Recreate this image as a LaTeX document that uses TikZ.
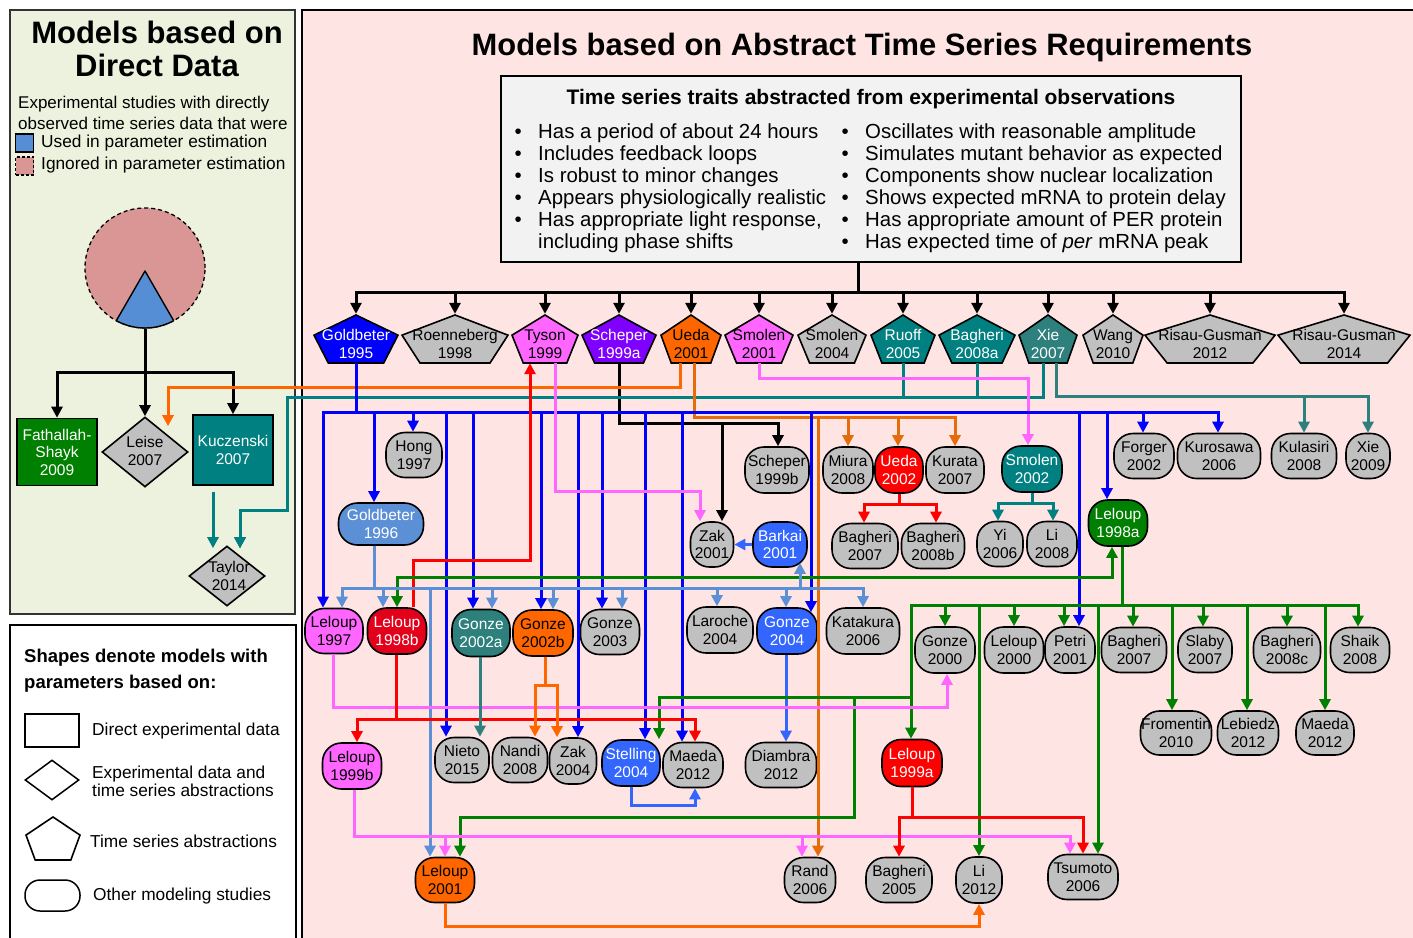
\documentclass[tikz,border=0pt]{standalone}
\usepackage{fontspec}
\setmainfont{Liberation Sans}
\usetikzlibrary{arrows.meta,shapes.geometric,calc}
\definecolor{cBlue}{HTML}{0000FF}
\definecolor{cLBlue}{HTML}{5B8FD6}
\definecolor{cMBlue}{HTML}{3366FF}
\definecolor{cPink}{HTML}{FF66FF}
\definecolor{cOrange}{HTML}{FF6600}
\definecolor{cDOrange}{HTML}{E46C0A}
\definecolor{cRed}{HTML}{FF0000}
\definecolor{cDRed}{HTML}{E3001B}
\definecolor{cTeal}{HTML}{008080}
\definecolor{cDTeal}{HTML}{2E807D}
\definecolor{cGreen}{HTML}{008000}
\definecolor{cPurple}{HTML}{8000FF}
\definecolor{cGrey}{HTML}{C0C0C0}
\definecolor{cPinkBg}{HTML}{FFE4E4}
\definecolor{cGreenBg}{HTML}{ECF2DD}
\definecolor{cBox}{HTML}{F2F2F2}
\definecolor{cPie}{HTML}{D99694}
\definecolor{cPieBlue}{HTML}{558ED5}
\newcommand\nodefont{\fontsize{15.5}{17.5}\selectfont}
\newcommand\rn[6]{\node[rnd,minimum width=#4,minimum height=#5,#6] (#1) at (#2,#3)}
\tikzset{
 rnd/.style={draw=black, line width=1.6pt, rounded corners=19pt, inner sep=0pt, align=center, font=\nodefont, fill=cGrey},
 wt/.style={text=white},
 ar/.style={line width=3pt, -{Triangle[length=11pt,width=11pt]}},
 pent/.style n args={3}{rectangle, inner sep=0pt, minimum width=#1, minimum height=60, align=center, font=\nodefont,
  path picture={
   \path ([yshift=-1pt]path picture bounding box.north) coordinate (pA)
     ([xshift=-2pt,yshift={-(1+0.42*#3)*1pt}]path picture bounding box.north east) coordinate (pR)
     ([xshift=2pt,yshift={-(1+0.42*#3)*1pt}]path picture bounding box.north west) coordinate (pL);
   \filldraw[fill=#2, draw=black, line width=1.6pt]
     (pA) -- (pR) -- ($(pA)!0.66!(pA -| pR)+(0pt,-#3pt)$) -- ($(pA)!0.66!(pA -| pL)+(0pt,-#3pt)$) -- (pL) -- cycle;
  }},
 lbl/.style={anchor=west, align=left, inner sep=0pt, font=\fontsize{17.3}{18}\selectfont},
}
\begin{document}
\begin{tikzpicture}[x=1pt,y=-1pt]
\useasboundingbox (0,0) rectangle (1413,937);
\fill[white] (0,0) rectangle (1413,937);
% panels
\draw[fill=cGreenBg, draw=black!80, line width=1.3pt] (10,10) rectangle (295,614);
\draw[fill=white, draw=black, line width=1.3pt] (10,625) rectangle (296,950);
\draw[fill=cPinkBg, draw=black, line width=1.3pt] (302,10) rectangle (1425,950);

% ---------- left panel ----------
\node[font=\fontsize{31}{33}\selectfont\bfseries, align=center, inner sep=0pt] (ltitle) at (157,49) {Models based on\\Direct Data};
\node[lbl, font=\fontsize{17}{21}\selectfont] (ltext) at (18,113) {Experimental studies with directly\\observed time series data that were};
\node[draw=black, line width=1.3pt, fill=cPieBlue, minimum size=18, inner sep=0pt] (legU) at (24.5,143) {};
\node[draw=black, dash pattern=on 3pt off 2pt, line width=1.3pt, fill=cPie, minimum size=18, inner sep=0pt] (legI) at (24.5,166) {};
\node[lbl] (legUt) at (41,143) {Used in parameter estimation};
\node[lbl] (legIt) at (41,165) {Ignored in parameter estimation};

\node[circle, draw=black, dash pattern=on 4pt off 3pt, line width=1.3pt, fill=cPie, minimum size=120, inner sep=0pt] (pie) at (145,268) {};
\begin{scope}
 \clip (pie.center) circle[radius=59.4pt];
 \fill[cPieBlue] (145,271) -- ++(-120:90pt) -- ++(0:90pt) -- cycle;
\end{scope}
\begin{scope}
 \clip (145,271) -- ++(-120:90pt) -- ++(0:90pt) -- cycle;
 \draw[line width=1.4pt] (pie.center) circle[radius=60pt];
\end{scope}
\draw[line width=1.4pt, line join=round] (116.3,320.7) -- (145,271) -- (173.7,320.7);

\node[rectangle, draw=black, line width=1.6pt, fill=cGreen, wt, minimum width=80, minimum height=67, inner sep=0pt, align=center, font=\nodefont] (fath) at (57,452) {Fathallah-\\Shayk\\2009};
\node[rectangle, draw=black, line width=1.6pt, fill=cTeal, wt, minimum width=80, minimum height=70, inner sep=0pt, align=center, font=\nodefont] (kucz) at (233,450) {Kuczenski\\2007};
\node[diamond, draw=black, line width=1.6pt, fill=cGrey, minimum width=86, minimum height=70, inner sep=0pt] (leise) at (145,452) {};
\node[font=\nodefont, align=center, inner sep=0pt] (leiset) at (145,451) {Leise\\2007};
\node[diamond, draw=black, line width=1.6pt, fill=cGrey, minimum width=76, minimum height=60, inner sep=0pt] (taylor) at (227,576) {};
\node[font=\nodefont, align=center, inner sep=0pt] (taylort) at (229,576) {Taylor\\2014};

% legend of shapes
\node[anchor=west, align=left, inner sep=0pt, font=\fontsize{18.5}{26}\selectfont\bfseries] (lhead) at (24,671) {Shapes denote models with\\parameters based on:};
\node[draw=black, line width=1.5pt, fill=white, minimum width=54, minimum height=33, inner sep=0pt] (legR) at (52,730.5) {};
\node[diamond, draw=black, line width=1.5pt, fill=white, minimum width=54, minimum height=40, inner sep=0pt] (legD) at (52,780) {};
\node[pent={58}{white}{43}] (legP) at (53,846) {};
\node[draw=black, line width=1.5pt, fill=white, rounded corners=15pt, minimum width=55, minimum height=31, inner sep=0pt] (legO) at (52.5,895.5) {};
\node[lbl] (legRt) at (92,731) {Direct experimental data};
\node[lbl] (legDt) at (92,781) {Experimental data and\\time series abstractions};
\node[lbl] (legPt) at (90,841) {Time series abstractions};
\node[lbl] (legOt) at (93,896) {Other modeling studies};

% ---------- right panel ----------
\node[font=\fontsize{30.9}{34}\selectfont\bfseries, inner sep=0pt] (rtitle) at (862,48) {Models based on Abstract Time Series Requirements};
\node[draw=black, line width=1.5pt, fill=cBox, minimum width=740, minimum height=186, inner sep=0pt] (traits) at (871,169) {};
\node[font=\fontsize{21}{24}\selectfont\bfseries, inner sep=0pt] (thead) at (871,99) {Time series traits abstracted from experimental observations};
\node[anchor=north west, inner sep=0pt, font=\fontsize{20.4}{22}\selectfont] (tcolL) at (514.5,123) {\renewcommand\arraystretch{1}\begin{tabular}{@{}l@{\hspace{16.4pt}}l@{}}
\textbullet & Has a period of about 24 hours\\
\textbullet & Includes feedback loops\\
\textbullet & Is robust to minor changes\\
\textbullet & Appears physiologically realistic\\
\textbullet & Has appropriate light response,\\
 & including phase shifts
\end{tabular}};
\node[anchor=north west, inner sep=0pt, font=\fontsize{20.4}{22}\selectfont] (tcolR) at (841.5,123) {\renewcommand\arraystretch{1}\begin{tabular}{@{}l@{\hspace{16.4pt}}l@{}}
\textbullet & Oscillates with reasonable amplitude\\
\textbullet & Simulates mutant behavior as expected\\
\textbullet & Components show nuclear localization\\
\textbullet & Shows expected mRNA to protein delay\\
\textbullet & Has appropriate amount of PER protein\\
\textbullet & Has expected time of \textit{per} mRNA peak
\end{tabular}};

% pentagons
\node[pent={88}{cBlue}{48},wt] (gb95) at (356,344) {Goldbeter\\1995};
\node[pent={110}{cGrey}{48}] (roe98) at (455,344) {Roenneberg\\1998};
\node[pent={70}{cPink}{48}] (ty99) at (545,344) {Tyson\\1999};
\node[pent={78}{cPurple}{48},wt] (sch99a) at (619,344) {Scheper\\1999a};
\node[pent={64}{cOrange}{48}] (ue01) at (691,344) {Ueda\\2001};
\node[pent={72}{cPink}{48}] (sm01) at (759,344) {Smolen\\2001};
\node[pent={72}{cGrey}{48}] (sm04) at (832,344) {Smolen\\2004};
\node[pent={68}{cTeal}{48},wt] (ru05) at (903,344) {Ruoff\\2005};
\node[pent={80}{cTeal}{48},wt] (bag08a) at (977,344) {Bagheri\\2008a};
\node[pent={62}{cDTeal}{48},wt] (xie07) at (1048,344) {Xie\\2007};
\node[pent={64}{cGrey}{48}] (wa10) at (1113,344) {Wang\\2010};
\node[pent={134}{cGrey}{48}] (rg12) at (1210,344) {Risau-Gusman\\2012};
\node[pent={136}{cGrey}{48}] (rg14) at (1344,344) {Risau-Gusman\\2014};

% other modeling studies
\rn{hong}{414}{455}{56}{45}{}{Hong\\1997};
\rn{sch99b}{777}{470}{64}{46}{}{Scheper\\1999b};
\rn{miura}{848}{470}{50}{46}{}{Miura\\2008};
\rn{ueda02}{899}{470}{48}{46}{fill=cRed,wt}{Ueda\\2002};
\rn{kurata}{955}{470}{58}{46}{}{Kurata\\2007};
\rn{sm02}{1032}{469}{60}{46}{fill=cTeal,wt}{Smolen\\2002};
\rn{forger}{1144}{456}{60}{45}{}{Forger\\2002};
\rn{kuros}{1219}{456}{83}{45}{}{Kurosawa\\2006};
\rn{kul08}{1304}{456}{65}{45}{}{Kulasiri\\2008};
\rn{xie09}{1368}{456}{44}{45}{}{Xie\\2009};
\rn{gb96}{381}{524}{85}{42}{fill=cLBlue,wt}{Goldbeter\\1996};
\rn{zak01}{712}{544.5}{43}{45}{}{Zak\\2001};
\rn{barkai}{780}{544.5}{54}{45}{fill=cMBlue,wt}{Barkai\\2001};
\rn{bag07a}{865}{546}{66}{45}{}{Bagheri\\2007};
\rn{bag08b}{933}{546}{63}{45}{}{Bagheri\\2008b};
\rn{yi06}{1000}{544}{46}{45}{}{Yi\\2006};
\rn{li08}{1052}{544}{50}{45}{}{Li\\2008};
\rn{lel98a}{1118}{523}{59}{46}{fill=cGreen,wt}{Leloup\\1998a};
\rn{lel97}{334}{631}{58}{45}{fill=cPink}{Leloup\\1997};
\rn{lel98b}{397}{631}{59}{46}{fill=cDRed,wt}{Leloup\\1998b};
\rn{gz02a}{481}{633}{58}{47}{fill=cDTeal,wt}{Gonze\\2002a};
\rn{gz02b}{543}{633}{60}{46}{fill=cOrange}{Gonze\\2002b};
\rn{gz03}{610}{632}{59}{45}{}{Gonze\\2003};
\rn{laroche}{720}{630}{66}{46}{}{Laroche\\2004};
\rn{gz04}{787}{631}{60}{46}{fill=cMBlue,wt}{Gonze\\2004};
\rn{katakura}{863}{631}{73}{46}{}{Katakura\\2006};
\rn{gz00}{945}{650}{60}{46}{}{Gonze\\2000};
\rn{lel00}{1014}{650}{59}{46}{}{Leloup\\2000};
\rn{petri}{1070}{650}{50}{46}{}{Petri\\2001};
\rn{bag07b}{1134}{650}{65}{45}{}{Bagheri\\2007};
\rn{slaby}{1205}{650}{54}{45}{}{Slaby\\2007};
\rn{bag08c}{1287}{650}{67}{45}{}{Bagheri\\2008c};
\rn{shaik}{1360}{650}{59}{45}{}{Shaik\\2008};
\rn{froment}{1176}{733}{71}{44}{}{Fromentin\\2010};
\rn{lebiedz}{1248}{733}{61}{44}{}{Lebiedz\\2012};
\rn{mae12r}{1325}{733}{58}{44}{}{Maeda\\2012};
\rn{lel99b}{352}{766}{59}{46}{fill=cPink}{Leloup\\1999b};
\rn{nieto}{462}{760}{54}{45}{}{Nieto\\2015};
\rn{nandi}{520}{760}{55}{45}{}{Nandi\\2008};
\rn{zak04}{573}{761}{47}{46}{}{Zak\\2004};
\rn{stel}{631}{763}{58}{46}{fill=cMBlue,wt}{Stelling\\2004};
\rn{mae12m}{693}{765}{60}{45}{}{Maeda\\2012};
\rn{diambra}{781}{765}{71}{45}{}{Diambra\\2012};
\rn{lel99a}{912}{763}{60}{47}{fill=cRed,wt}{Leloup\\1999a};
\rn{lel01}{445}{880}{59}{45}{fill=cOrange}{Leloup\\2001};
\rn{rand}{810}{880}{51}{45}{}{Rand\\2006};
\rn{bag05}{899}{880}{66}{45}{}{Bagheri\\2005};
\rn{li12}{979}{880}{46}{46}{}{Li\\2012};
\rn{tsumoto}{1083}{877}{70}{45}{}{Tsumoto\\2006};

% ---------- connectors ----------
% black
\foreach \tg in {gb95,roe98,ty99,sch99a,ue01,sm01,sm04,ru05,bag08a,xie07,wa10,rg12,rg14}
  \draw[ar] ([xshift=-13pt]traits.south) -- ++(0,30) -| (\tg.north);
\foreach \tg in {fath,leise,kucz}
  \draw[ar] (pie.south) -- ++(0,44) -| (\tg.north);
\draw[ar] ([yshift=11pt]sch99a.south) -- ++(0,60) -| ([xshift=1pt]sch99b.north);
\draw[ar] ([yshift=11pt]sch99a.south) -- ++(0,60) -| ([xshift=10pt]zak01.north);
% teal to Taylor
\foreach \s/\dx in {xie07/-5pt, ru05/0pt, bag08a/0pt}
  \draw[ar, draw=cTeal] ([xshift=\dx,yshift=11pt]\s.south) -- ++(0,34) -| (287,510) -| ([xshift=13pt,yshift=-3pt]taylor.north);
\draw[ar, draw=cTeal] ([xshift=-20pt,yshift=-6pt]kucz.south) -- ([xshift=-14pt,yshift=-3pt]taylor.north);
% orange Ueda 2001 -> Leise
\draw[ar, draw=cOrange] ([xshift=-11pt,yshift=11pt]ue01.south) -- ++(0,24) -| ([xshift=23pt,yshift=-10pt]leise.north);
% dark teal Xie 2007
\foreach \tg in {kul08, xie09}
  \draw[ar, draw=cDTeal] ([xshift=8pt,yshift=11pt]xie07.south) -- ++(0,33) -| (\tg.north);
% pink Smolen 2001 -> Smolen 2002
\draw[ar, draw=cPink] ([yshift=11pt]sm01.south) -- ++(0,15) -| ([xshift=-4pt]sm02.north);
% dark orange Ueda 2001
\foreach \tg/\dx in {miura/0pt, ueda02/-1pt, kurata/0pt, rand/8pt}
  \draw[ar, draw=cDOrange] ([xshift=3pt,yshift=11pt]ue01.south) -- ++(0,54) -| ([xshift=\dx]\tg.north);
% blue Goldbeter 1995
\foreach \tg/\dx in {lel97/-11pt, gb96/-7pt, hong/-1pt, nieto/-16pt, gz02a/-8pt, gz02b/-2pt, zak04/5pt, gz03/-8pt, stel/14pt, mae12m/-11pt, petri/9pt, lel98a/-11pt, forger/-1pt, kuros/-1pt}
  \draw[ar, draw=cBlue] ([yshift=11pt]gb95.south) -- ++(0,49) -| ([xshift=\dx]\tg.north);
\draw[ar, draw=cBlue] ([yshift=11pt]gb95.south) -- ++(0,49) -| ([xshift=24pt,yshift=-5pt]gz04.north);
% pink Tyson -> Zak 2001
\draw[ar, draw=cPink] ([xshift=10pt,yshift=11pt]ty99.south) -- ++(0,128) -| ([xshift=-12pt]zak01.north);
% red Leloup 1998b -> Tyson
\draw[ar, draw=cRed] ([xshift=16pt]lel98b.north) |- (530,560) -- ([xshift=-15pt,yshift=11pt]ty99.south);
% red Ueda 2002
\foreach \tg/\dx in {bag07a/-1pt, bag08b/3pt}
  \draw[ar, draw=cRed] (ueda02.south) -- ++(0,11) -| ([xshift=\dx]\tg.north);
% teal Smolen 2002
\foreach \tg/\dx in {yi06/-2pt, li08/1pt}
  \draw[ar, draw=cTeal] (sm02.south) -- ++(0,11) -| ([xshift=\dx]\tg.north);
% green Leloup 1998a <-> Leloup 1998b
\draw[draw=cGreen, line width=3pt, {Triangle[length=11pt,width=11pt]}-{Triangle[length=11pt,width=11pt]}] ([xshift=-6pt]lel98a.south) |- (397,577) -- (lel98b.north);
% light blue Goldbeter 1996
\foreach \tg/\dx in {lel97/8pt, lel98b/-14pt, gz02a/11pt, gz02b/10pt, gz03/12pt, laroche/-3pt, gz04/-1pt, katakura/0pt, lel01/-15pt}
  \draw[ar, draw=cLBlue] ([xshift=-7pt]gb96.south) -- ++(0,43) -| ([xshift=\dx]\tg.north);
\draw[ar, draw=cLBlue] ([xshift=-7pt]gb96.south) -- ++(0,43) -| ([xshift=20pt,yshift=5pt]barkai.south);
% medium blue
\draw[ar, draw=cMBlue] (barkai.west) -- (zak01.east);
\draw[ar, draw=cMBlue] ([xshift=-1pt]gz04.south) -- ([xshift=5pt]diambra.north);
\draw[ar, draw=cMBlue] (stel.south) -- ++(0,19) -| ([xshift=2pt]mae12m.south);
% green Leloup 1998a
\foreach \tg/\dx in {gz00/0pt, lel00/0pt, petri/-6pt, bag07b/-1pt, slaby/-2pt, bag08c/0pt, shaik/-2pt, froment/-4pt, lebiedz/-1pt, mae12r/0pt, li12/0pt, tsumoto/15pt, lel99a/-1pt}
  \draw[ar, draw=cGreen] ([xshift=4pt]lel98a.south) -- ++(0,59) -| ([xshift=\dx]\tg.north);
\draw[ar, draw=cGreen] ([xshift=4pt]lel98a.south) -- ++(0,59) -| (911,697) -| ([xshift=28pt]stel.north);
\draw[ar, draw=cGreen] ([xshift=4pt]lel98a.south) -- ++(0,59) -| (911,697) -| (854,817) -| ([xshift=15pt]lel01.north);
% pink Leloup 1997 -> Gonze 2000
\draw[ar, draw=cPink] ([xshift=-1pt]lel97.south) -- ++(0,53) -| ([xshift=2pt]gz00.south);
% red Leloup 1998b
\foreach \tg/\dx in {lel99b/5pt, mae12m/2pt}
  \draw[ar, draw=cRed] ([xshift=-1pt]lel98b.south) -- ++(0,65) -| ([xshift=\dx]\tg.north);
% orange Gonze 2002b
\foreach \tg/\dx in {nandi/15pt, zak04/-16pt}
  \draw[ar, draw=cOrange] ([xshift=2pt]gz02b.south) -- ++(0,29) -| ([xshift=\dx]\tg.north);
% dark teal Gonze 2002a -> Nieto
\draw[ar, draw=cDTeal] ([xshift=-1pt]gz02a.south) -- ([xshift=18pt]nieto.north);
% pink Leloup 1999b
\foreach \tg/\dx in {lel01/0pt, rand/-8pt, tsumoto/-13pt}
  \draw[ar, draw=cPink] ([xshift=2pt]lel99b.south) -- ++(0,47) -| ([xshift=\dx]\tg.north);
% red Leloup 1999a
\foreach \tg in {bag05, tsumoto}
  \draw[ar, draw=cRed] (lel99a.south) -- ++(0,30) -| (\tg.north);
% orange Leloup 2001 -> Li 2012
\draw[ar, draw=cOrange] (lel01.south) -- ++(0,23) -| (li12.south);
\end{tikzpicture}
\end{document}
